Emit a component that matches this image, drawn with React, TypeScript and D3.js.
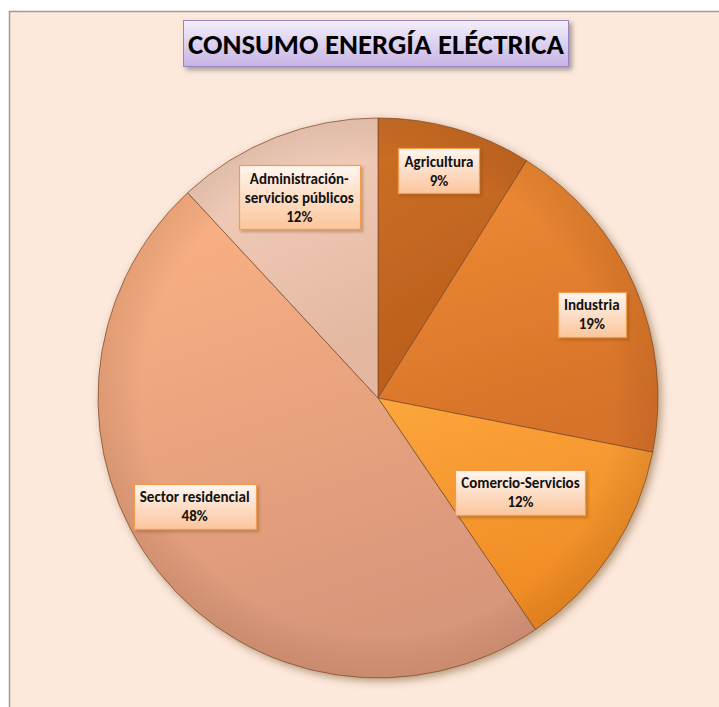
import React, { useEffect, useRef } from 'react';
import * as d3 from 'd3';

// data (clockwise from 12 o'clock)
const categories = ['Agricultura', 'Industria', 'Comercio-Servicios', 'Sector residencial', 'Administración-servicios públicos'];
const values = [8.9, 19.2, 12.4, 47.6, 11.9];
const labelLines = [['Agricultura'], ['Industria'], ['Comercio-Servicios'], ['Sector residencial'], ['Administración-', 'servicios públicos']];
const titleText = 'CONSUMO ENERGÍA ELÉCTRICA';

// [light, dark] fill per slice
const sliceColors = [
  ['#cd6f25', '#b95e1c'],
  ['#f28d33', '#d6722a'],
  ['#fca63c', '#ef8a23'],
  ['#fcb283', '#d8967a'],
  ['#f6d4c2', '#e3b7a0'],
];

const FONT = 'Carlito, Calibri, Lato, "Open Sans", sans-serif';

const App = () => {
  const svgRef = useRef<SVGSVGElement>(null);

  useEffect(() => {
    const width = 719;
    const height = 707;
    const cx = 378;
    const cy = 398;
    const r = 280;
    // label placement: fraction of radius and angle nudge (deg), like Excel best fit
    const labelRadius = [0.84, 0.82, 0.61, 0.76, 0.77];
    const labelNudge = [-1, 2, 0, 8, 0];

    const svg = d3.select(svgRef.current);
    svg.selectAll('*').remove();
    svg.attr('width', width).attr('height', height);

    const defs = svg.append('defs');
    const sh = defs.append('filter').attr('id', 'pieShadow').attr('x', '-10%').attr('y', '-10%').attr('width', '130%').attr('height', '130%');
    sh.append('feDropShadow').attr('dx', 3).attr('dy', 3).attr('stdDeviation', 4).attr('flood-color', '#5a3010').attr('flood-opacity', 0.45);
    const bs = defs.append('filter').attr('id', 'boxShadow').attr('x', '-20%').attr('y', '-20%').attr('width', '150%').attr('height', '160%');
    bs.append('feDropShadow').attr('dx', 2).attr('dy', 2).attr('stdDeviation', 1.5).attr('flood-color', '#6a3a10').attr('flood-opacity', 0.35);
    const ts = defs.append('filter').attr('id', 'titleShadow').attr('x', '-10%').attr('y', '-20%').attr('width', '120%').attr('height', '160%');
    ts.append('feDropShadow').attr('dx', 3).attr('dy', 3).attr('stdDeviation', 2.5).attr('flood-color', '#444').attr('flood-opacity', 0.5);

    sliceColors.forEach((c, i) => {
      const g = defs.append('linearGradient').attr('id', `slice${i}`).attr('x1', 0).attr('y1', 0).attr('x2', 0.3).attr('y2', 1);
      g.append('stop').attr('offset', '0%').attr('stop-color', c[0]);
      g.append('stop').attr('offset', '100%').attr('stop-color', c[1]);
    });
    const lg = defs.append('linearGradient').attr('id', 'labelFill').attr('x1', 0).attr('y1', 0).attr('x2', 0).attr('y2', 1);
    lg.append('stop').attr('offset', '0%').attr('stop-color', '#fff6ef');
    lg.append('stop').attr('offset', '100%').attr('stop-color', '#fbc59c');
    const tg = defs.append('linearGradient').attr('id', 'titleFill').attr('x1', 0).attr('y1', 0).attr('x2', 0).attr('y2', 1);
    tg.append('stop').attr('offset', '0%').attr('stop-color', '#f3effb');
    tg.append('stop').attr('offset', '100%').attr('stop-color', '#c7b3e4');
    const rg = defs.append('radialGradient').attr('id', 'bevel').attr('cx', cx).attr('cy', cy).attr('r', r).attr('gradientUnits', 'userSpaceOnUse');
    rg.append('stop').attr('offset', '85%').attr('stop-color', '#000').attr('stop-opacity', 0);
    rg.append('stop').attr('offset', '100%').attr('stop-color', '#4a2000').attr('stop-opacity', 0.1);

    // chart area
    svg.append('rect').attr('width', width).attr('height', height).attr('fill', '#ffffff');
    svg.append('rect').attr('x', 9.5).attr('y', 11.5).attr('width', width).attr('height', height)
      .attr('fill', '#fde9dc').attr('stroke', '#a09a96').attr('stroke-width', 1.5);

    // title
    const title = svg.append('g');
    title.append('rect').attr('x', 183.5).attr('y', 20.5).attr('width', 385).attr('height', 46)
      .attr('fill', 'url(#titleFill)').attr('stroke', '#9a84c2').attr('filter', 'url(#titleShadow)');
    title.append('text').attr('x', 376).attr('y', 54).attr('text-anchor', 'middle')
      .attr('font-family', FONT).attr('font-weight', 'bold').attr('font-size', 29).attr('fill', '#000')
      .attr('textLength', 376).attr('lengthAdjust', 'spacingAndGlyphs')
      .text(titleText);

    // pie
    const pie = d3.pie<number>().sort(null).value((d) => d);
    const arcs = pie(values);
    const arc = d3.arc<d3.PieArcDatum<number>>().innerRadius(0).outerRadius(r);
    const total = d3.sum(values);

    const pg = svg.append('g').attr('transform', `translate(${cx},${cy})`);
    const slices = pg.append('g').attr('filter', 'url(#pieShadow)');
    slices.selectAll('path').data(arcs).enter().append('path')
      .attr('d', arc)
      .attr('fill', (_d, i) => `url(#slice${i})`)
      .attr('stroke', '#7a4a2a').attr('stroke-opacity', 0.7).attr('stroke-width', 1);
    svg.append('circle').attr('cx', cx).attr('cy', cy).attr('r', r).attr('fill', 'url(#bevel)').style('pointer-events', 'none');

    // labels
    const lineH = 19;
    arcs.forEach((d, i) => {
      const a = (d.startAngle + d.endAngle) / 2 + (labelNudge[i] * Math.PI) / 180;
      const lr = r * labelRadius[i];
      const x = cx + lr * Math.sin(a);
      const y = cy - lr * Math.cos(a);
      const lines = [...labelLines[i], `${Math.round((d.value / total) * 100)}%`];
      const g = svg.append('g');
      const rect = g.append('rect');
      const txt = g.append('text').attr('text-anchor', 'middle')
        .attr('font-family', FONT).attr('font-weight', 'bold').attr('font-size', 15).attr('fill', '#111');
      const y0 = y - ((lines.length - 1) * lineH) / 2;
      lines.forEach((l, j) => {
        txt.append('tspan').attr('x', x).attr('y', y0 + j * lineH).attr('dy', '0.35em').text(l);
      });
      const tw = (txt.node() as SVGTextElement).getBBox().width;
      const bw = Math.round(tw + 12);
      const bh = lines.length * lineH + 7;
      rect.attr('x', Math.round(x - bw / 2) + 0.5).attr('y', Math.round(y - bh / 2) + 0.5)
        .attr('width', bw).attr('height', bh)
        .attr('fill', 'url(#labelFill)').attr('stroke', '#f39a4c').attr('stroke-width', 1.2)
        .attr('filter', 'url(#boxShadow)');
    });
    svg.attr('aria-label', categories.join(', '));
  }, []);

  return <svg ref={svgRef} style={{ position: 'absolute', left: 0, top: 0, display: 'block' }}></svg>;
};

export default App;
